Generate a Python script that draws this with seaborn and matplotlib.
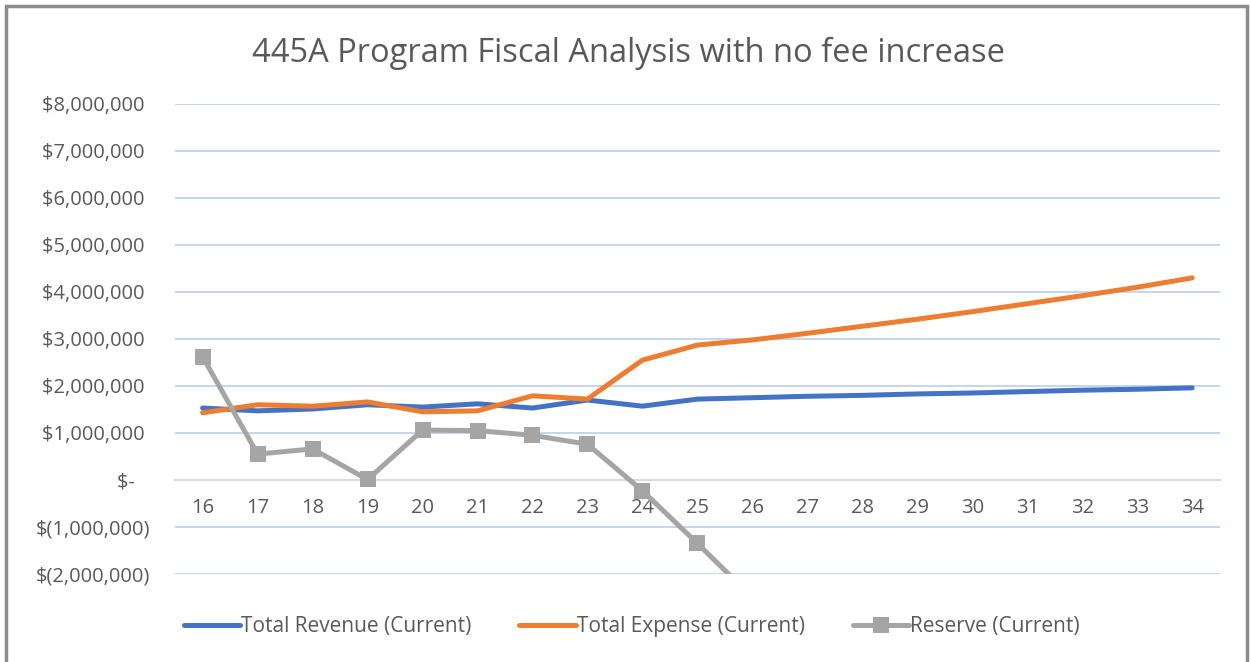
import numpy as np
import pandas as pd
import matplotlib
matplotlib.use("Agg")
import matplotlib.pyplot as plt
import seaborn as sns
from matplotlib.patches import Rectangle

# ---- data ----
years = [16, 17, 18, 19, 20, 21, 22, 23, 24, 25, 26, 27, 28, 29, 30, 31, 32, 33, 34]
revenue = [1.53e6, 1.47e6, 1.51e6, 1.60e6, 1.55e6, 1.62e6, 1.53e6, 1.70e6, 1.57e6, 1.72e6,
           1.75e6, 1.78e6, 1.80e6, 1.83e6, 1.85e6, 1.88e6, 1.91e6, 1.93e6, 1.96e6]
expense = [1.43e6, 1.60e6, 1.57e6, 1.66e6, 1.45e6, 1.47e6, 1.79e6, 1.72e6, 2.55e6, 2.87e6,
           2.98e6, 3.12e6, 3.27e6, 3.42e6, 3.58e6, 3.75e6, 3.92e6, 4.10e6, 4.30e6]
reserve = [2.62e6, 0.55e6, 0.66e6, 0.01e6, 1.06e6, 1.05e6, 0.95e6, 0.76e6, -0.23e6, -1.35e6,
           -2.50e6, np.nan, np.nan, np.nan, np.nan, np.nan, np.nan, np.nan, np.nan]
series_names = ["Total Revenue (Current)", "Total Expense (Current)", "Reserve (Current)"]
y_ticks = [-2e6, -1e6, 0, 1e6, 2e6, 3e6, 4e6, 5e6, 6e6, 7e6, 8e6]
y_tick_labels = ["$(2,000,000)", "$(1,000,000)", "$-   ", "$1,000,000 ", "$2,000,000 ",
                 "$3,000,000 ", "$4,000,000 ", "$5,000,000 ", "$6,000,000 ", "$7,000,000 ",
                 "$8,000,000 "]
title = "445A Program Fiscal Analysis with no fee increase"

df = pd.DataFrame({"year": years, series_names[0]: revenue,
                   series_names[1]: expense, series_names[2]: reserve})

sns.set_theme(style="white")
plt.rcParams["font.family"] = ["Open Sans", "DejaVu Sans"]

text_color = "#595959"
colors = ["#4472C4", "#ED7D31", "#A5A5A5"]

fig = plt.figure(figsize=(12.51, 6.62), dpi=100)
ax = fig.add_axes([0.14, 0.133, 0.835, 0.710])

for name, c, mk in zip(series_names, colors, [None, None, "s"]):
    sns.lineplot(data=df, x="year", y=name, ax=ax, color=c, linewidth=3.6,
                 marker=mk, markersize=11.5 if mk else 0, markeredgewidth=0,
                 label=name, solid_capstyle="round", zorder=3)

ax.set_xlim(15.5, 34.5)
ax.set_ylim(-2e6, 8e6)
ax.set_yticks(y_ticks)
ax.set_yticklabels(y_tick_labels)
ax.set_xticks(years)
ax.set_xticklabels([str(y) for y in years])
ax.set_xlabel("")
ax.set_ylabel("")

for y in y_ticks:
    if y != 0:
        ax.axhline(y, color="#C5D5EE", linewidth=1.4, zorder=1)

for s in ["top", "right", "left"]:
    ax.spines[s].set_visible(False)
ax.spines["bottom"].set_position(("data", 0))
ax.spines["bottom"].set_color("#D9D9D9")
ax.spines["bottom"].set_linewidth(1.4)
ax.spines["bottom"].set_zorder(1)

ax.tick_params(axis="y", length=0, pad=18, labelsize=14.5, labelcolor=text_color)
ax.tick_params(axis="x", length=0, pad=13, labelsize=14.5, labelcolor=text_color)

fig.text(0.502, 0.92, title, ha="center", va="center", fontsize=23.5,
         color=text_color, fontweight="normal")

leg = ax.legend(loc="center", bbox_to_anchor=(0.505, 0.053), bbox_transform=fig.transFigure,
                ncol=3, frameon=False, fontsize=15, handlelength=2.7, handletextpad=0.05,
                columnspacing=2.3, labelcolor=text_color)

# chart border
fig.patches.append(Rectangle((0.005, -0.01), 0.992, 1.001, transform=fig.transFigure,
                             fill=False, edgecolor="#8C8C8C", linewidth=2.5))

fig.savefig("out.png", dpi=100)
